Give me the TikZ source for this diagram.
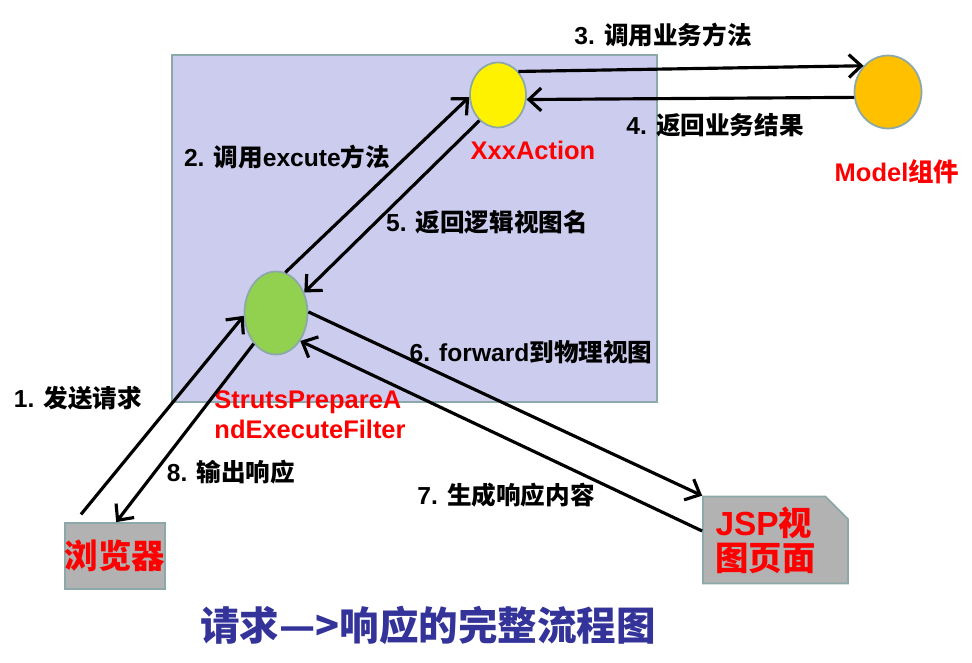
\documentclass[tikz,border=0pt]{standalone}
\usepackage{fontspec}
\setmainfont{Liberation Sans}
\newfontfamily\cjkfont{Noto Sans CJK SC}
\newcommand{\zh}[1]{{\cjkfont #1}}
\usepackage{tikz}
\usetikzlibrary{positioning, arrows.meta, shapes.geometric, shapes.misc}

\definecolor{lilla}{RGB}{204,204,238}
\definecolor{bordo}{RGB}{140,168,168}
\definecolor{grigio}{RGB}{178,178,178}
\definecolor{arancio}{RGB}{255,192,0}
\definecolor{verde}{RGB}{146,208,80}
\definecolor{blutitolo}{RGB}{51,51,153}

\begin{document}
\begin{tikzpicture}[
        x=0.02cm, y=-0.02cm,
        % Stile dei blocchi con bordo grigio-azzurro
        box/.style={
            draw=bordo,
            line width=1pt
        },
        blob/.style={box, ellipse, inner sep=0pt},
        % Testo rosso dei componenti
        redtext/.style={text=red, font=\fontsize{14.5pt}{17pt}\selectfont\bfseries, align=left},
        bigred/.style={text=red, font=\fontsize{19pt}{20pt}\selectfont\bfseries},
        note/.style={font=\fontsize{14pt}{16pt}\selectfont\bfseries},
        flow/.style={->, line width=1.8pt},
        >={Straight Barb[length=7pt, width=13pt]},
    ]

    \useasboundingbox (0,0) rectangle (972,662);

    % Riquadro del framework
    \node[box, fill=lilla, minimum width=9.7cm, minimum height=6.94cm] (core) at (414.5,228.5) {};

    \node[blob, fill=yellow, minimum width=1.12cm, minimum height=1.3cm] (action) at (498,95) {};
    \node[blob, fill=arancio, minimum width=1.34cm, minimum height=1.46cm] (model) at (888,92) {};
    \node[blob, fill=verde, minimum width=1.26cm, minimum height=1.66cm] (filter) at (276,313) {};

    \node[box, bigred, fill=grigio, minimum width=2cm, minimum height=1.32cm, inner sep=0pt] (browser) at (115,556) {\zh{浏览器}};
    \node[box, bigred, fill=grigio, chamfered rectangle, chamfered rectangle corners=north east,
          chamfered rectangle xsep=0.25cm, chamfered rectangle ysep=0.2cm,
          text width=2.4cm, align=left, inner xsep=0pt, inner ysep=0pt] (jsp) at (775.5,540) {JSP\zh{视}\\\zh{图页面}};

    % Nomi dei componenti
    \node[redtext] (actionname) at (533,150) {XxxAction};
    \node[redtext] (modelname) at (897,172) {Model\zh{组件}};
    \node[redtext] (filtername) at (310,415) {StrutsPrepareA\\ndExecuteFilter};

    % Passi della richiesta
    \node[note] (n1) at (78,398) {1. \zh{发送请求}};
    \node[note] (n2) at (287,157) {2. \zh{调用}excute\zh{方法}};
    \node[note] (n3) at (663,35) {3. \zh{调用业务方法}};
    \node[note] (n4) at (715,125) {4. \zh{返回业务结果}};
    \node[note] (n5) at (487,222) {5. \zh{返回逻辑视图名}};
    \node[note] (n6) at (531,352) {6. forward\zh{到物理视图}};
    \node[note] (n7) at (506,495) {7. \zh{生成响应内容}};
    \node[note] (n8) at (231,472) {8. \zh{输出响应}};

    \draw[flow, shorten <=0.2cm] (browser.140) -- (filter.185);
    \draw[flow] (filter.234) -- (browser.88);
    \draw[flow] (filter.77) -- (action.184);
    \draw[flow] (action.234) -- (filter.36);
    \draw[flow] (action.49) -- (model.133);
    \draw[flow] (model.189) -- (action.351);
    \draw[flow] (filter.2) -- (jsp.north west);
    \draw[flow] (jsp.173) -- (filter.311);

    \node[text=blutitolo, font=\fontsize{22.5pt}{26pt}\selectfont\cjkfont\bfseries] (title) at (428,625) {请求—>响应的完整流程图};

\end{tikzpicture}
\end{document}
